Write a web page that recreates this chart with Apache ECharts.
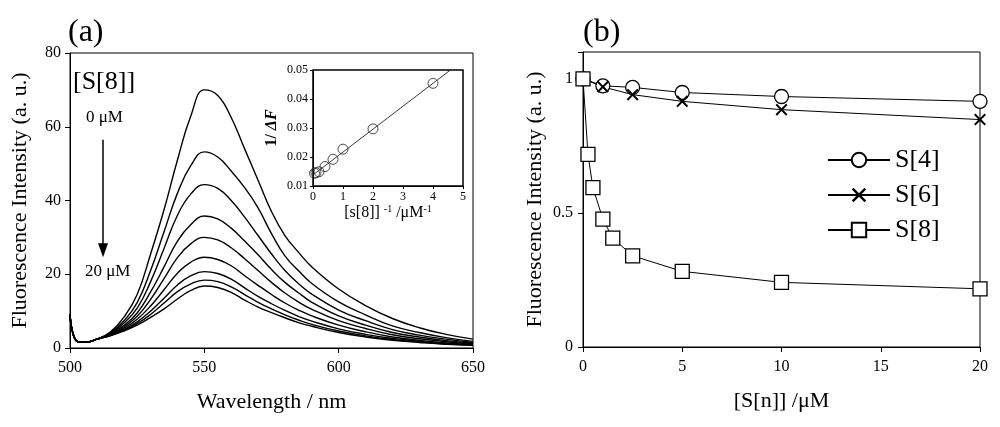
<!DOCTYPE html>
<html>
<head>
<meta charset="utf-8">
<script src="https://cdn.jsdelivr.net/npm/echarts/dist/echarts.min.js"></script>
<style>
html,body{margin:0;padding:0;background:#fff;}
#main{width:1000px;height:427px;}
</style>
</head>
<body>
<div id="main"></div>
<script>
// (a) emission spectra, one curve per [S[8]] concentration
var wavelengths = [500, 501, 503, 506, 510, 515, 520, 525, 530, 535, 540, 545, 550, 555, 560, 565, 570, 575, 580, 585, 590, 600, 610, 620, 630, 640, 650];
var spec0uM   = [9.0, 4.2, 1.7, 1.6, 2.4, 4.3, 8.3, 14.5, 25.5, 37.5, 51, 63, 70, 68.5, 62.5, 54, 45.5, 37, 30.5, 26, 22, 16, 11.5, 8, 5.5, 3.7, 2.4];
var spec025uM = [9.0, 4.2, 1.7, 1.6, 2.4, 4.1, 7.3, 12.3, 21, 31.5, 42, 49.5, 53.2, 51.8, 48, 43.5, 38, 31, 25, 21, 17.5, 12.5, 9, 6, 4.2, 2.8, 1.8];
var spec05uM  = [9.0, 4.2, 1.7, 1.6, 2.4, 3.9, 6.7, 10.8, 18, 27, 36, 41.8, 44.3, 43.3, 40, 35.5, 30.5, 25.5, 21, 17.5, 14.6, 10.3, 7.4, 5, 3.5, 2.4, 1.5];
var spec1uM   = [9.0, 4.2, 1.7, 1.6, 2.4, 3.8, 6.1, 9.5, 15.2, 22, 29, 33.5, 35.8, 35, 32.5, 29, 25.3, 21.3, 17.8, 15, 12.4, 8.7, 6.2, 4.2, 3, 2, 1.3];
var spec15uM  = [9.0, 4.2, 1.7, 1.6, 2.4, 3.7, 5.7, 8.6, 13.2, 18.8, 24.5, 28.3, 30, 29.3, 27.2, 24.2, 21, 17.8, 14.9, 12.5, 10.5, 7.4, 5.3, 3.6, 2.5, 1.7, 1.1];
var spec25uM  = [9.0, 4.2, 1.7, 1.6, 2.4, 3.6, 5.3, 7.8, 11.4, 15.8, 20.3, 23.3, 24.6, 24, 22.3, 19.6, 17, 14.5, 12.2, 10.3, 8.7, 6.2, 4.4, 3, 2.1, 1.4, 1.0];
var spec5uM   = [9.0, 4.2, 1.7, 1.6, 2.4, 3.5, 5.0, 7.1, 10, 13.5, 17.1, 19.6, 20.7, 20.2, 18.7, 16.3, 14, 12, 10.2, 8.6, 7.3, 5.2, 3.7, 2.6, 1.8, 1.2, 0.9];
var spec10uM  = [9.0, 4.2, 1.7, 1.6, 2.4, 3.4, 4.8, 6.6, 9.1, 12.2, 15.3, 17.4, 18.4, 18, 16.6, 14.5, 12.4, 10.6, 9, 7.6, 6.4, 4.6, 3.3, 2.3, 1.6, 1.1, 0.8];
var spec20uM  = [9.0, 4.2, 1.7, 1.6, 2.4, 3.3, 4.6, 6.2, 8.3, 10.6, 13.3, 15.6, 16.8, 16.4, 15.1, 13, 11.1, 9.6, 8.2, 6.9, 5.9, 4.2, 3, 2.1, 1.5, 1, 0.7];
var spectra = [spec0uM, spec025uM, spec05uM, spec1uM, spec15uM, spec25uM, spec5uM, spec10uM, spec20uM];

// inset: double reciprocal plot
var invConc = [0.05, 0.1, 0.2, 0.4, 0.667, 1, 2, 4];
var invDeltaF = [0.0144, 0.0146, 0.0149, 0.0167, 0.0192, 0.0227, 0.0297, 0.0454];
var fitX = [0, 4.58];
var fitY = [0.0138, 0.05];

// (b) relative intensity vs concentration
var s4Conc = [0, 1, 2.5, 5, 10, 20];
var s4Val  = [1.0, 0.974, 0.968, 0.949, 0.934, 0.916];
var s6Conc = [0, 1, 2.5, 5, 10, 20];
var s6Val  = [1.0, 0.97, 0.941, 0.916, 0.885, 0.848];
var s8Conc = [0, 0.25, 0.5, 1, 1.5, 2.5, 5, 10, 20];
var s8Val  = [1.0, 0.718, 0.594, 0.477, 0.406, 0.340, 0.282, 0.241, 0.217];

(function(){
	var myChart = echarts.init(document.getElementById('main'));
	var serif = 'Liberation Serif';

	function zip(xs, ys) {
		return xs.map(function (x, i) { return [x, ys[i]]; });
	}

	function axisBase(extra) {
		var a = {
			type: 'value',
			nameMoveOverlap: false,
			splitLine: { show: false },
			axisLine: { show: true, lineStyle: { color: '#000', width: 1 } },
			axisTick: { show: true, length: 5, lineStyle: { color: '#000' } },
			axisLabel: { color: '#000', fontFamily: serif, fontSize: 16 },
			nameTextStyle: { color: '#000', fontFamily: serif, fontSize: 22 }
		};
		for (var k in extra) a[k] = extra[k];
		return a;
	}

	var series = [];
	spectra.forEach(function (arr, i) {
		var s = {
			name: 'spec' + i,
			type: 'line',
			xAxisIndex: 0,
			yAxisIndex: 0,
			data: zip(wavelengths, arr),
			showSymbol: false,
			smooth: 0.45,
			lineStyle: { color: '#000', width: 1.4 },
			silent: true
		};
		if (i === 0) {
			// the downward arrow between "0 μM" and "20 μM"
			s.markLine = {
				silent: true,
				symbol: ['none', 'triangle'],
				symbolSize: [10, 14],
				label: { show: false },
				lineStyle: { color: '#000', width: 1.5, type: 'solid' },
				data: [[{ coord: [512.3, 56.5] }, { coord: [512.3, 26.5] }]]
			};
		}
		series.push(s);
	});

	series.push({
		name: 'fit',
		type: 'line',
		xAxisIndex: 1,
		yAxisIndex: 1,
		data: zip(fitX, fitY),
		showSymbol: false,
		lineStyle: { color: '#222', width: 0.9 },
		silent: true
	});
	series.push({
		name: 'inv',
		type: 'scatter',
		xAxisIndex: 1,
		yAxisIndex: 1,
		data: zip(invConc, invDeltaF),
		symbol: 'circle',
		symbolSize: 10,
		itemStyle: { color: 'rgba(255,255,255,0)', borderColor: '#222', borderWidth: 1 },
		silent: true
	});

	var xMark = 'path://M0,1.2L1.2,0L5,3.8L8.8,0L10,1.2L6.2,5L10,8.8L8.8,10L5,6.2L1.2,10L0,8.8L3.8,5Z';
	series.push({
		name: 'S[4]', type: 'line', xAxisIndex: 2, yAxisIndex: 2,
		data: zip(s4Conc, s4Val),
		symbol: 'circle', symbolSize: 14,
		lineStyle: { color: '#000', width: 1 },
		itemStyle: { color: '#fff', borderColor: '#000', borderWidth: 1.3 }
	});
	series.push({
		name: 'S[6]', type: 'line', xAxisIndex: 2, yAxisIndex: 2,
		data: zip(s6Conc, s6Val),
		symbol: xMark, symbolSize: 12,
		lineStyle: { color: '#000', width: 1 },
		itemStyle: { color: '#000' }
	});
	series.push({
		name: 'S[8]', type: 'line', xAxisIndex: 2, yAxisIndex: 2,
		data: zip(s8Conc, s8Val),
		symbol: 'rect', symbolSize: 14,
		lineStyle: { color: '#000', width: 1 },
		itemStyle: { color: '#fff', borderColor: '#000', borderWidth: 1.3 }
	});

	var option = {
		backgroundColor: '#fff',
		animation: false,
		title: [
			{ text: '(a)', left: 63, top: 12, textStyle: { fontFamily: serif, fontSize: 32, fontWeight: 'normal', color: '#000' } },
			{ text: '(b)', left: 578, top: 12, textStyle: { fontFamily: serif, fontSize: 32, fontWeight: 'normal', color: '#000' } }
		],
		legend: {
			data: ['S[4]', 'S[6]', 'S[8]'],
			orient: 'vertical',
			left: 822,
			top: 142,
			itemWidth: 62,
			itemHeight: 18,
			itemGap: 9,
			textStyle: { fontFamily: serif, fontSize: 26, color: '#000' },
			selectedMode: false
		},
		grid: [
			{ left: 70, top: 53, width: 403, height: 295, show: true, borderColor: '#000', borderWidth: 1, outerBoundsMode: 'none', containLabel: false },
			{ left: 313, top: 70, width: 150, height: 116, show: true, borderColor: '#000', borderWidth: 1.5, outerBoundsMode: 'none', containLabel: false },
			{ left: 583, top: 52, width: 397, height: 295, show: true, borderColor: '#000', borderWidth: 1, outerBoundsMode: 'none', containLabel: false }
		],
		xAxis: [
			axisBase({
				gridIndex: 0, min: 500, max: 650, interval: 50,
				name: 'Wavelength / nm', nameLocation: 'middle', nameGap: 43,
				axisLabel: { color: '#000', fontFamily: serif, fontSize: 16, margin: 12 }
			}),
			axisBase({
				gridIndex: 1, min: 0, max: 5, interval: 1,
				name: '[s[8]] {sup|-1} /μM{sup|-1}', nameLocation: 'middle', nameGap: 18,
				axisTick: { show: true, length: 3, lineStyle: { color: '#000' } },
				axisLabel: { color: '#000', fontFamily: serif, fontSize: 12, margin: 5 },
				nameTextStyle: {
					color: '#000', fontFamily: serif, fontSize: 16,
					rich: { sup: { fontFamily: serif, fontSize: 10, verticalAlign: 'top', padding: [0, 0, 8, 0] } }
				}
			}),
			axisBase({
				gridIndex: 2, min: 0, max: 20, interval: 5,
				name: '[S[n]] /μM', nameLocation: 'middle', nameGap: 43,
				axisLabel: { color: '#000', fontFamily: serif, fontSize: 16, margin: 12 }
			})
		],
		yAxis: [
			axisBase({
				gridIndex: 0, min: 0, max: 80, interval: 20,
				name: 'Fluorescence Intensity (a. u.)', nameLocation: 'middle', nameGap: 39,
				axisLabel: { color: '#000', fontFamily: serif, fontSize: 16, margin: 9 }
			}),
			axisBase({
				gridIndex: 1, min: 0.01, max: 0.05, interval: 0.01,
				name: '1/ {it|ΔF}', nameLocation: 'middle', nameGap: 33,
				axisTick: { show: true, length: 3, lineStyle: { color: '#000' } },
				axisLabel: { color: '#000', fontFamily: serif, fontSize: 12, margin: 5 },
				nameTextStyle: {
					color: '#000', fontFamily: serif, fontSize: 16, fontWeight: 'bold',
					rich: { it: { fontFamily: serif, fontSize: 16, fontStyle: 'italic', fontWeight: 'bold' } }
				}
			}),
			axisBase({
				gridIndex: 2, min: 0, max: 1.1, interval: 0.5,
				name: 'Fluorescence Intensity (a. u.)', nameLocation: 'middle', nameGap: 37,
				axisLabel: {
					color: '#000', fontFamily: serif, fontSize: 16, margin: 10,
					formatter: function (v) { return v > 1.05 ? '' : String(v); }
				}
			})
		],
		graphic: [
			{ type: 'text', left: 73, top: 69, style: { text: '[S[8]]', font: '26px "Liberation Serif"', fill: '#000' } },
			{ type: 'text', left: 86, top: 109, style: { text: '0 μM', font: '17px "Liberation Serif"', fill: '#000' } },
			{ type: 'text', left: 85, top: 263, style: { text: '20 μM', font: '17px "Liberation Serif"', fill: '#000' } }
		],
		series: series
	};
	myChart.setOption(option);
	window.addEventListener("resize", function() {
		myChart.resize();
	});
})();
</script>
</body>
</html>
